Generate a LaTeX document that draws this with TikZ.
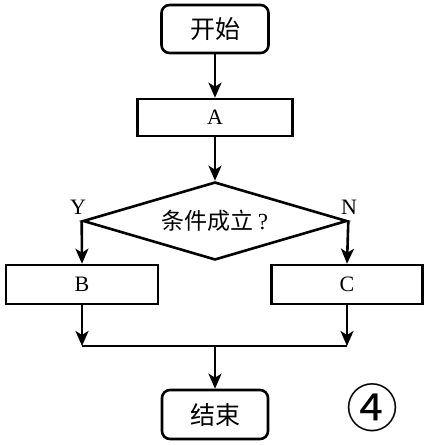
\documentclass[tikz,border=0pt]{standalone}
\usepackage{fontspec}
\setmainfont{Liberation Serif}
\newfontfamily\cjk{Noto Sans CJK SC}
\usetikzlibrary{shapes.geometric,arrows.meta}
\begin{document}
\begin{tikzpicture}[x=1pt,y=-1pt,
  box/.style={draw,line width=2.6pt,inner sep=0pt,font=\fontsize{22}{22}\selectfont},
  term/.style={box,rounded corners=8pt,font=\cjk\fontsize{25}{25}\selectfont},
  dec/.style={draw,line width=2.6pt,diamond,inner sep=0pt,aspect=3.4,font=\cjk\fontsize{23}{23}\selectfont},
  flow/.style={line width=2.6pt,-{Stealth[length=15pt,width=13pt,inset=4pt]}},
  line/.style={line width=2.6pt},
  lab/.style={font=\fontsize{22}{22}\selectfont}]
\useasboundingbox (0,0) rectangle (425,445);
\node[term,minimum width=107pt,minimum height=48pt] (start) at (215,29) {开始};
\node[box,minimum width=155pt,minimum height=37pt] (A) at (215,117.5) {A};
\node[dec,minimum width=264pt,minimum height=78pt] (d) at (215,221) {条件成立\,{\rmfamily ?}};
\node[box,minimum width=152pt,minimum height=39pt] (B) at (82,284.5) {B};
\node[box,minimum width=151pt,minimum height=39pt] (C) at (347,284.5) {C};
\node[term,minimum width=106pt,minimum height=49pt] (end) at (215,414.5) {结束};
\node[font=\cjk\fontsize{52}{52}\selectfont] (four) at (372,408) {④};
\node[lab] (Y) at (78,207) {Y};
\node[lab] (N) at (349,207) {N};
\coordinate (jl) at (82,346);
\coordinate (jr) at (347,346);
\coordinate (jm) at (215,346);
\draw[flow] (start) -- (A);
\draw[flow] (A) -- (d.north);
\draw[flow] (d.west) -- (B.north);
\draw[flow] (d.east) -- (C.north);
\draw[flow] (B) -- (jl);
\draw[flow] (C) -- (jr);
\draw[line] (jl) -- (jr);
\draw[flow] (jm) -- (end);
\end{tikzpicture}
\end{document}
